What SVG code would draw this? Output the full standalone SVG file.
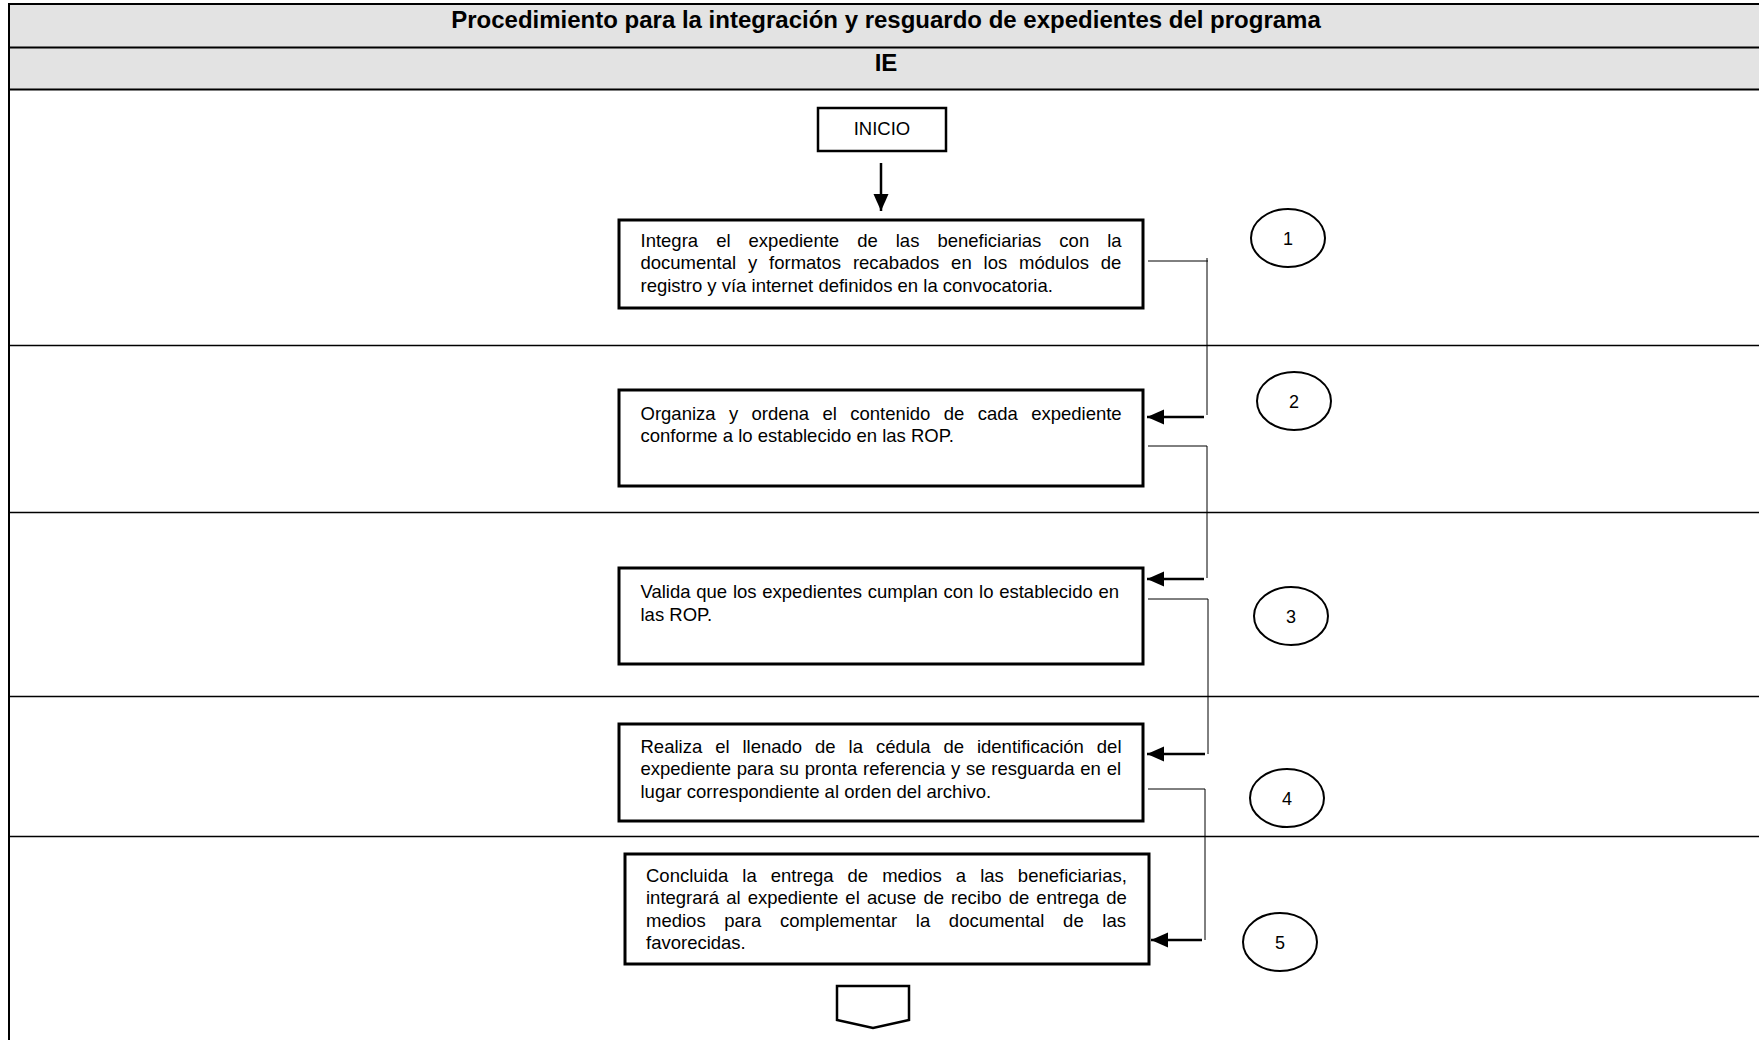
<svg xmlns="http://www.w3.org/2000/svg" width="1759" height="1040" viewBox="0 0 1759 1040">
<style>
.hdr{fill:#e3e3e3;stroke:none}
.tl{stroke:#000;stroke-width:2;fill:none}
.ln{stroke:#000;stroke-width:1.5;fill:none}
.box{fill:#fff;stroke:#000;stroke-width:3}
.circ{fill:#fff;stroke:#000;stroke-width:2}
.t{font-family:"Liberation Sans",Arial,sans-serif;font-size:18.5px;fill:#000}
.n{font-family:"Liberation Sans",Arial,sans-serif;font-size:18px;fill:#000;text-anchor:middle}
.title{font-family:"Liberation Sans",Arial,sans-serif;font-size:24px;font-weight:bold;fill:#000;text-anchor:middle}
.thin{stroke:#000;stroke-width:1;fill:none}
.arr{stroke:#000;stroke-width:2.5;fill:none}
</style>
<defs>
<marker id="ah" markerUnits="userSpaceOnUse" markerWidth="18" markerHeight="16" refX="17" refY="7.5" orient="auto">
<path d="M0,0 L17,7.5 L0,15 Z" fill="#000"/>
</marker>
</defs>
<rect width="1759" height="1040" fill="#fff"/>
<g id="table">
<rect class="hdr" x="9" y="4" width="1760" height="86"/>
<line class="tl" x1="9" y1="4" x2="1770" y2="4"/>
<line class="tl" x1="9" y1="47.5" x2="1770" y2="47.5"/>
<line class="tl" x1="9" y1="89.5" x2="1770" y2="89.5"/>
<line class="ln" x1="9" y1="345.5" x2="1770" y2="345.5"/>
<line class="ln" x1="9" y1="512.5" x2="1770" y2="512.5"/>
<line class="ln" x1="9" y1="696.5" x2="1770" y2="696.5"/>
<line class="ln" x1="9" y1="836.5" x2="1770" y2="836.5"/>
<line class="tl" x1="9" y1="3" x2="9" y2="1040"/>
<text class="title" x="886" y="28">Procedimiento para la integración y resguardo de expedientes del programa</text>
<text class="title" x="886" y="71">IE</text>
</g>
<g id="connectors">
<line class="arr" x1="881" y1="163" x2="881" y2="211" marker-end="url(#ah)"/>
<polyline class="thin" points="1148,261 1208,261"/>
<line class="thin" x1="1207" y1="258" x2="1207" y2="415"/>
<line class="arr" x1="1204" y1="417" x2="1147" y2="417" marker-end="url(#ah)"/>
<polyline class="thin" points="1148,446 1207,446 1207,578"/>
<line class="arr" x1="1204" y1="579" x2="1147" y2="579" marker-end="url(#ah)"/>
<polyline class="thin" points="1148,599 1208,599 1208,754"/>
<line class="arr" x1="1205" y1="754" x2="1147" y2="754" marker-end="url(#ah)"/>
<polyline class="thin" points="1148,789 1205,789 1205,940"/>
<line class="arr" x1="1202" y1="940" x2="1151" y2="940" marker-end="url(#ah)"/>
</g>
<g id="inicio">
<rect x="818" y="108" width="128" height="43" fill="#fff" stroke="#000" stroke-width="2.5"/>
<text class="n" x="882" y="135" style="font-size:18.5px">INICIO</text>
</g>
<g id="step1">
<rect class="box" x="619" y="220" width="524" height="88"/>
<text class="t" x="640.5" y="246.5" style="word-spacing:12.9px">Integra el expediente de las beneficiarias con la</text>
<text class="t" x="640.5" y="269" style="word-spacing:6.7px">documental y formatos recabados en los módulos de</text>
<text class="t" x="640.5" y="291.5">registro y vía internet definidos en la convocatoria.</text>
</g>
<g id="step2">
<rect class="box" x="619" y="390" width="524" height="96"/>
<text class="t" x="640.5" y="419.5" style="word-spacing:8.2px">Organiza y ordena el contenido de cada expediente</text>
<text class="t" x="640.5" y="442">conforme a lo establecido en las ROP.</text>
</g>
<g id="step3">
<rect class="box" x="619" y="568" width="524" height="96"/>
<text class="t" x="640.5" y="598" style="word-spacing:0.6px">Valida que los expedientes cumplan con lo establecido en</text>
<text class="t" x="640.5" y="620.5">las ROP.</text>
</g>
<g id="step4">
<rect class="box" x="619" y="724" width="524" height="97"/>
<text class="t" x="640.5" y="752.5" style="word-spacing:7.8px">Realiza el llenado de la cédula de identificación del</text>
<text class="t" x="640.5" y="775" style="word-spacing:0.6px">expediente para su pronta referencia y se resguarda en el</text>
<text class="t" x="640.5" y="797.5">lugar correspondiente al orden del archivo.</text>
</g>
<g id="step5">
<rect class="box" x="625" y="854" width="524" height="110"/>
<text class="t" x="646" y="881.5" style="word-spacing:8.9px">Concluida la entrega de medios a las beneficiarias,</text>
<text class="t" x="646" y="904" style="word-spacing:2px">integrará al expediente el acuse de recibo de entrega de</text>
<text class="t" x="646" y="926.5" style="word-spacing:13.5px">medios para complementar la documental de las</text>
<text class="t" x="646" y="949">favorecidas.</text>
</g>
<g id="c1"><ellipse class="circ" cx="1288" cy="238" rx="37" ry="29"/><text class="n" x="1288" y="244.5">1</text></g>
<g id="c2"><ellipse class="circ" cx="1294" cy="401" rx="37" ry="29"/><text class="n" x="1294" y="407.5">2</text></g>
<g id="c3"><ellipse class="circ" cx="1291" cy="616" rx="37" ry="29"/><text class="n" x="1291" y="622.5">3</text></g>
<g id="c4"><ellipse class="circ" cx="1287" cy="798" rx="37" ry="29"/><text class="n" x="1287" y="804.5">4</text></g>
<g id="c5"><ellipse class="circ" cx="1280" cy="942" rx="37" ry="29"/><text class="n" x="1280" y="948.5">5</text></g>
<g id="offpage">
<polygon points="837,986 909,986 909,1020 873,1028 837,1020" fill="#fff" stroke="#000" stroke-width="2.5"/>
</g>
</svg>
